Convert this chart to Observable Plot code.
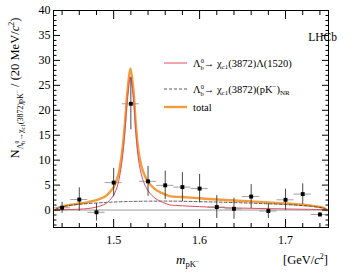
<!DOCTYPE html>
<html><head><meta charset="utf-8">
<script src="https://cdn.jsdelivr.net/npm/d3@7"></script>
<script src="https://cdn.jsdelivr.net/npm/@observablehq/plot@0.6"></script>
<style>
body{margin:0;background:#fff;}
#chart{position:relative;width:356px;height:273px;}
svg, svg text{font-family:"Liberation Serif","DejaVu Serif",serif !important;}
</style></head><body><div id="chart"></div>
<script>
// ---- data ----
const binCenters = [1.44,1.46,1.48,1.50,1.52,1.54,1.56,1.58,1.60,1.62,1.64,1.66,1.68,1.70,1.72,1.74];
const counts =      [0.45,2.1,-0.45,5.5,21.3,5.75,4.95,4.6,4.3,0.6,0.25,2.7,-0.2,2.05,3.2,-0.9];
const countErrors = [1.1,2.35,1.75,2.85,5.2,3.0,2.85,2.9,2.85,2.3,2.1,2.4,1.5,2.1,2.05,0.4];
const binHalfWidth = 0.01;

const curveMass =        [1.432,1.436,1.44,1.45,1.46,1.47,1.48,1.49,1.495,1.50,1.505,1.51,1.513,1.516,1.5195,1.523,1.526,1.529,1.533,1.537,1.542,1.548,1.555,1.565,1.58,1.60,1.62,1.64,1.66,1.68,1.70,1.72,1.73,1.74,1.745,1.748];
const lambda1520Curve =  [0,0.02,0.05,0.1,0.17,0.3,0.6,1.2,1.9,3.0,5.2,10.2,15.5,22.0,26.7,22.3,15.0,10.0,6.6,4.8,3.4,2.4,1.7,1.05,0.85,0.68,0.52,0.42,0.35,0.28,0.22,0.16,0.13,0.08,0.05,0];
const nonResonantCurve = [0,0.45,0.65,0.95,1.15,1.3,1.42,1.52,1.57,1.6,1.64,1.67,1.69,1.7,1.72,1.73,1.74,1.75,1.76,1.77,1.78,1.78,1.79,1.79,1.76,1.68,1.6,1.5,1.38,1.25,1.1,0.9,0.75,0.52,0.35,0];
const totalCurve =       [0,0.47,0.7,1.05,1.3,1.6,2.0,2.7,3.5,4.6,6.8,11.9,17.2,23.7,28.4,24.0,16.7,11.7,8.4,6.6,5.2,4.2,3.5,2.8,2.6,2.35,2.1,1.9,1.73,1.53,1.32,1.06,0.88,0.6,0.4,0];

const xDomain = [1.43, 1.75];
const yDomain = [-3.5, 40];
const xMajorTicks = [1.5, 1.6, 1.7];
const xMinorTicks = [1.44,1.46,1.48,1.52,1.54,1.56,1.58,1.62,1.64,1.66,1.68,1.72,1.74];
const yMajorTicks = [0,5,10,15,20,25,30,35,40];
const yMinorTicks = [-3,-2,-1,1,2,3,4,6,7,8,9,11,12,13,14,16,17,18,19,21,22,23,24,26,27,28,29,31,32,33,34,36,37,38,39];

const colors = {lambda: "#dc4f5e", nonres: "#333333", total: "#f39c3c", zero: "#9a9a9a"};
const experimentLabel = "LHCb";
const totalLabel = "total";

// ---- build tables ----
const points = binCenters.map((x, i) => ({
  x, y: counts[i], lo: counts[i] - countErrors[i], hi: counts[i] + countErrors[i],
  x1: x - binHalfWidth, x2: x + binHalfWidth
}));
const curves = curveMass.map((m, i) => ({m, lam: lambda1520Curve[i], nr: nonResonantCurve[i], tot: totalCurve[i]}));

const plot = Plot.plot({
  width: 356, height: 273,
  marginLeft: 53, marginRight: 28, marginTop: 10, marginBottom: 46,
  x: {domain: xDomain}, y: {domain: yDomain},
  style: {fontFamily: "Liberation Serif, serif", fontSize: "12px", background: "white", color: "black", overflow: "visible"},
  marks: [
    Plot.ruleY([0], {stroke: colors.zero, strokeWidth: 1}),
    Plot.line(curves, {x: "m", y: "tot", stroke: colors.total, strokeWidth: 2.4, curve: "catmull-rom"}),
    Plot.line(curves, {x: "m", y: "nr", stroke: colors.nonres, strokeWidth: 0.8, strokeDasharray: "3,2", curve: "catmull-rom"}),
    Plot.line(curves, {x: "m", y: "lam", stroke: colors.lambda, strokeWidth: 1, curve: "catmull-rom"}),
    Plot.ruleY(points, {y: "y", x1: "x1", x2: "x2", stroke: "#888", strokeWidth: 0.8}),
    Plot.ruleX(points, {x: "x", y1: "lo", y2: "hi", stroke: "#333", strokeWidth: 0.9}),
    Plot.dot(points, {x: "x", y: "y", symbol: "square", fill: "black", r: 2.2}),
    Plot.frame({stroke: "black", strokeWidth: 1}),
    // ticks inside the frame
    Plot.axisX(xMajorTicks, {anchor: "bottom", tickSize: -8, text: null}),
    Plot.axisX(xMinorTicks, {anchor: "bottom", tickSize: -4, text: null}),
    Plot.axisX(xMajorTicks, {anchor: "top", tickSize: -8, text: null}),
    Plot.axisX(xMinorTicks, {anchor: "top", tickSize: -4, text: null}),
    Plot.axisY(yMajorTicks, {anchor: "left", tickSize: -7, text: null}),
    Plot.axisY(yMinorTicks, {anchor: "left", tickSize: -3.5, text: null}),
    Plot.axisY(yMajorTicks, {anchor: "right", tickSize: -7, text: null}),
    Plot.axisY(yMinorTicks, {anchor: "right", tickSize: -3.5, text: null}),
    // tick labels
    Plot.axisX(xMajorTicks, {anchor: "bottom", tickSize: 0, tickPadding: 8, label: null, fontSize: 12, fontFamily: "Liberation Serif", tickFormat: d3.format(".1f")}),
    Plot.axisY(yMajorTicks, {anchor: "left", tickSize: 0, tickPadding: 3, label: null, fontSize: 12, fontFamily: "Liberation Serif"})
  ]
});
document.getElementById("chart").appendChild(plot);

// ---- rich text helper (sub/superscripts as tspans) ----
const svg = d3.select(plot);
function rich(x, y, parts, {anchor = "start", size = 12, transform = null} = {}) {
  const t = svg.append("text").attr("x", x).attr("y", y)
    .attr("text-anchor", anchor).attr("font-size", size).attr("fill", "black")
    .attr("font-family", "Liberation Serif, DejaVu Serif, serif");
  if (transform) t.attr("transform", transform);
  let cur = 0;
  for (const p of parts) {
    const off = p.off || 0;
    const s = t.append("tspan").text(p.t).attr("dy", off - cur);
    cur = off;
    if (p.fs) s.attr("font-size", p.fs);
    if (p.i) s.attr("font-style", "italic");
    if (p.dx) s.attr("dx", p.dx);
  }
  return t;
}

// Y title
rich(0, 0, [
  {t: "N"},
  {t: "Λ", fs: 8, off: 3.5},
  {t: "0", fs: 5.5, off: -0.5},
  {t: "b", fs: 5.5, off: 5.5, dx: -3},
  {t: "→χ", fs: 8, off: 3.5},
  {t: "c1", fs: 5.5, off: 5.5},
  {t: "(3872)pK", fs: 8, off: 3.5},
  {t: "−", fs: 5.5, off: 0},
  {t: " / (20 MeV/", off: 0},
  {t: "c", i: true},
  {t: "2", fs: 8, off: -5},
  {t: ")", off: 0}
], {anchor: "middle", size: 12.5, transform: "translate(19,88) rotate(-90)"});

// X title
rich(176, 264, [
  {t: "m", i: true},
  {t: "pK", fs: 8.5, off: 3},
  {t: "−", fs: 6, off: -1}
], {size: 13});
rich(328, 264, [
  {t: "[GeV/"},
  {t: "c", i: true},
  {t: "2", fs: 8, off: -5},
  {t: "]", off: 0}
], {anchor: "end", size: 12.5});

// LHCb label
rich(337, 41, [{t: experimentLabel}], {anchor: "end", size: 11.5});

// legend
const legendRows = [
  {y: 63, stroke: colors.lambda, w: 1, dash: null, parts: [
    {t: "Λ"}, {t: "0", fs: 6.5, off: -3.5}, {t: "b", fs: 6.5, off: 3, dx: -3.3},
    {t: "→ χ", off: 0}, {t: "c1", fs: 7, off: 2.5}, {t: "(3872)Λ(1520)", off: 0}]},
  {y: 89, stroke: colors.nonres, w: 0.8, dash: "3,2", parts: [
    {t: "Λ"}, {t: "0", fs: 6.5, off: -3.5}, {t: "b", fs: 6.5, off: 3, dx: -3.3},
    {t: "→ χ", off: 0}, {t: "c1", fs: 7, off: 2.5}, {t: "(3872)(pK", off: 0},
    {t: "−", fs: 7, off: -4}, {t: ")", off: 0}, {t: "NR", fs: 7, off: 2.5}]},
  {y: 107, stroke: colors.total, w: 2.4, dash: null, parts: [{t: totalLabel}]}
];
for (const r of legendRows) {
  const l = svg.append("line").attr("x1", 164).attr("x2", 187).attr("y1", r.y).attr("y2", r.y)
    .attr("stroke", r.stroke).attr("stroke-width", r.w);
  if (r.dash) l.attr("stroke-dasharray", r.dash);
  rich(193, r.y + 3.5, r.parts, {size: 10.5});
}
</script></body></html>
